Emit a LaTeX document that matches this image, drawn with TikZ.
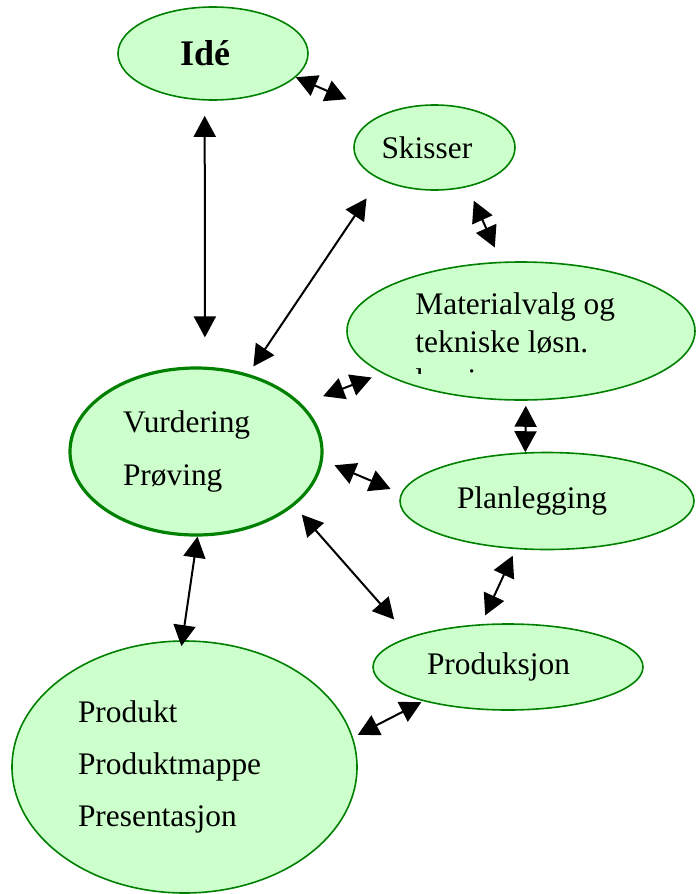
\documentclass[tikz,border=0pt]{standalone}
\usepackage{fontspec}
\setmainfont{Liberation Serif}
\usetikzlibrary{arrows.meta,shapes.geometric}
\definecolor{ringgreen}{RGB}{0,128,0}
\definecolor{bubblefill}{RGB}{204,255,204}

\begin{document}
\begin{tikzpicture}[x=0.5pt, y=-0.5pt, >={Triangle[length=10.5pt, width=11pt]},
    bubble/.style={ellipse, draw=ringgreen, fill=bubblefill, line width=0.8pt, inner sep=0pt,
        align=left, font=\fontsize{15.7}{19.2}\selectfont},
    link/.style 2 args={<->, line width=1pt, shorten <=#1, shorten >=#2}]
    \useasboundingbox (0,0) rectangle (696,894);

    % Bubbles
    \node[bubble, minimum width=95pt, minimum height=46.5pt, text width=33pt,
        font=\fontsize{18}{20}\selectfont\bfseries] (ide) at (213,53.5) {Idé};
    \node[bubble, minimum width=80.5pt, minimum height=42.5pt, text width=53pt] (skisser) at (434.5,147.5) {Skisser};
    \node[bubble, minimum width=174pt, minimum height=69pt] (material) at (521,331) {};
    \node[bubble, minimum width=126pt, minimum height=83.5pt, line width=1.6pt, text width=73pt,
        font=\fontsize{15.7}{26.5}\selectfont] (vurdering) at (196,451.5) {Vurdering\\Prøving};
    \node[bubble, minimum width=147pt, minimum height=48.5pt, text width=90pt] (planlegging) at (547,501) {Planlegging};
    \node[bubble, minimum width=135pt, minimum height=43pt, text width=81pt] (produksjon) at (508,667) {Produksjon};
    \node[bubble, minimum width=172.5pt, minimum height=126pt, text width=106.5pt,
        font=\fontsize{15.7}{26.2}\selectfont] (produkt) at (184.5,767) {Produkt\\Produktmappe\\Presentasjon};

    % Text of the material bubble, last line cut off by its box
    \begin{scope}
        \clip (405,280) rectangle (690,373);
        \node[anchor=north west, inner sep=0pt, align=left, font=\fontsize{15.7}{19.2}\selectfont]
            (materialtext) at (415,292) {Materialvalg og\\tekniske løsn.\\løsninger};
    \end{scope}

    % Double arrows
    \draw[link={0pt}{19.25pt}] (ide.-16) -- (skisser.148);
    \draw[link={7.6pt}{14.6pt}] (ide.260) -- (vurdering.84);
    \draw[link={11.5pt}{4.5pt}] (skisser.210) -- (vurdering.56);
    \draw[link={7.5pt}{7.75pt}] (skisser.-50) -- (material.106);
    \draw[link={5.65pt}{11.25pt}] (material.197) -- (vurdering.24);
    \draw[link={2.5pt}{0pt}] (material.-86) -- (planlegging.114);
    \draw[link={6.3pt}{5.65pt}] (vurdering.-4) -- (planlegging.177);
    \draw[link={5.8pt}{11.6pt}] (vurdering.-29) -- (produksjon.163);
    \draw[link={3.6pt}{4.8pt}] (planlegging.237) -- (produksjon.122);
    \draw[link={0pt}{-3pt}] (vurdering.-89) -- (produkt.91);
    \draw[link={1.1pt}{2.75pt}] (produksjon.202) -- (produkt.10);
\end{tikzpicture}
\end{document}
